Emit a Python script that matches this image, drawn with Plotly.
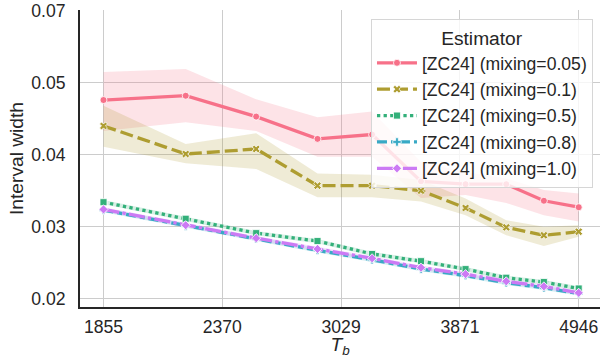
import plotly.graph_objects as go

# ---- data ----
x_vals = [1855, 2198, 2542, 2885, 3229, 3572, 3916, 4259, 4603, 4946]
x_ticks = [1855, 2370, 3029, 3871, 4946]
y_tick_vals = [0.02, 0.03, 0.04, 0.05, 0.06]
y_tick_text = ["0.02", "0.03", "0.04", "0.05", "0.07"]

labels = ["[ZC24] (mixing=0.05)", "[ZC24] (mixing=0.1)", "[ZC24] (mixing=0.5)",
          "[ZC24] (mixing=0.8)", "[ZC24] (mixing=1.0)"]

mix005_mean = [0.0476, 0.0482, 0.0453, 0.0422, 0.0428, 0.0363, 0.0359, 0.0359, 0.0336, 0.0327]
mix005_lo = [0.0433, 0.0445, 0.0433, 0.0397, 0.0397, 0.0340, 0.0344, 0.0333, 0.0316, 0.0307]
mix005_hi = [0.0515, 0.0519, 0.0477, 0.0452, 0.0460, 0.0390, 0.0376, 0.0367, 0.0351, 0.0346]

mix01_mean = [0.0440, 0.0401, 0.0408, 0.0357, 0.0357, 0.0350, 0.0326, 0.0299, 0.0288, 0.0293]
mix01_lo = [0.0411, 0.0388, 0.0380, 0.0341, 0.0341, 0.0335, 0.0316, 0.0288, 0.0273, 0.0286]
mix01_hi = [0.0468, 0.0415, 0.0430, 0.0374, 0.0372, 0.0365, 0.0339, 0.0309, 0.0300, 0.0302]

mix05_mean = [0.0334, 0.0311, 0.0291, 0.0280, 0.0262, 0.0252, 0.0241, 0.0229, 0.0223, 0.0214]
mix05_lo = [0.0331, 0.0308, 0.0288, 0.0277, 0.0259, 0.0249, 0.0238, 0.0226, 0.0220, 0.0211]
mix05_hi = [0.0337, 0.0314, 0.0294, 0.0283, 0.0265, 0.0255, 0.0244, 0.0232, 0.0226, 0.0217]

mix08_mean = [0.0323, 0.0301, 0.0283, 0.0267, 0.0254, 0.0241, 0.0232, 0.0222, 0.0215, 0.0207]
mix08_lo = [0.0320, 0.0298, 0.0280, 0.0264, 0.0251, 0.0238, 0.0229, 0.0219, 0.0212, 0.0204]
mix08_hi = [0.0326, 0.0304, 0.0286, 0.0270, 0.0257, 0.0244, 0.0235, 0.0225, 0.0218, 0.0210]

mix10_mean = [0.0324, 0.0302, 0.0284, 0.0269, 0.0256, 0.0243, 0.0234, 0.0224, 0.0217, 0.0208]
mix10_lo = [0.0321, 0.0299, 0.0281, 0.0266, 0.0253, 0.0240, 0.0231, 0.0221, 0.0214, 0.0205]
mix10_hi = [0.0327, 0.0305, 0.0287, 0.0272, 0.0259, 0.0246, 0.0237, 0.0227, 0.0220, 0.0211]

series = [
    (labels[0], mix005_mean, mix005_lo, mix005_hi),
    (labels[1], mix01_mean, mix01_lo, mix01_hi),
    (labels[2], mix05_mean, mix05_lo, mix05_hi),
    (labels[3], mix08_mean, mix08_lo, mix08_hi),
    (labels[4], mix10_mean, mix10_lo, mix10_hi),
]

# ---- styles ----
colors = ["#f77189", "#ae9d31", "#33b07a", "#38a9c5", "#cc7af4"]
dashes = ["solid", "13px,5px", "3.3px,3.3px", "10px,4px,5px,4px", "16px,3.3px,3.3px,3.3px"]
symbols = ["circle", "x", "square", "cross", "diamond"]


def rgba(hexc, a):
    h = hexc.lstrip("#")
    r, g, b = int(h[0:2], 16), int(h[2:4], 16), int(h[4:6], 16)
    return f"rgba({r},{g},{b},{a})"


fig = go.Figure()

# bands first
for i, (name, m, lo, hi) in enumerate(series):
    fig.add_trace(go.Scatter(
        x=x_vals + x_vals[::-1], y=hi + lo[::-1],
        fill="toself", fillcolor=rgba(colors[i], 0.2),
        line=dict(width=0), mode="lines", hoverinfo="skip",
        showlegend=False, legendgroup=f"g{i}"))

# lines
for i, (name, m, lo, hi) in enumerate(series):
    fig.add_trace(go.Scatter(
        x=x_vals, y=m, name=name, mode="lines+markers",
        legendgroup=f"g{i}",
        line=dict(color=colors[i], width=3.3, dash=dashes[i]),
        marker=dict(symbol=symbols[i], size=7, color=colors[i],
                    line=dict(color="white", width=0.8))))

FONT = "Liberation Sans, Arial, sans-serif"
TXT = "#262626"

fig.update_layout(
    width=600, height=358,
    margin=dict(l=80, r=0, t=10, b=51, autoexpand=False),
    paper_bgcolor="white", plot_bgcolor="white",
    font=dict(family=FONT, size=17.6, color=TXT),
    legend=dict(
        title=dict(text="Estimator", font=dict(size=19.2, color=TXT), side="top center"),
        font=dict(size=17.6, color=TXT),
        x=0.9865, xanchor="right", y=0.97, yanchor="top",
        bgcolor="rgba(255,255,255,0.8)", bordercolor="#d6d6d6", borderwidth=1,
        tracegroupgap=0.5, itemwidth=40,
    ),
    showlegend=True,
)

fig.update_xaxes(
    type="log",
    range=[3.24728, 3.71334],
    tickvals=x_ticks, ticktext=[str(v) for v in x_ticks],
    showgrid=True, gridcolor="#cccccc", gridwidth=1.4,
    showline=True, linecolor=TXT, linewidth=2,
    ticks="outside", ticklen=3, tickcolor="rgba(0,0,0,0)",
    tickfont=dict(size=17.6, color=TXT),
    title=dict(text="<i>T<sub>b</sub></i>", font=dict(size=19.2, color=TXT), standoff=3),
    zeroline=False, automargin=True,
)

fig.update_yaxes(
    range=[0.018831, 0.060116],
    tickvals=y_tick_vals, ticktext=y_tick_text,
    showgrid=True, gridcolor="#cccccc", gridwidth=1.4,
    showline=True, linecolor=TXT, linewidth=2,
    ticks="outside", ticklen=9, tickcolor="rgba(0,0,0,0)",
    tickfont=dict(size=17.6, color=TXT),
    title=dict(text="Interval width", font=dict(size=19.2, color=TXT), standoff=3),
    zeroline=False, automargin=False,
)

fig.write_html("out.html", config={"displayModeBar": False},
               post_script="document.body.style.margin='0px';")
